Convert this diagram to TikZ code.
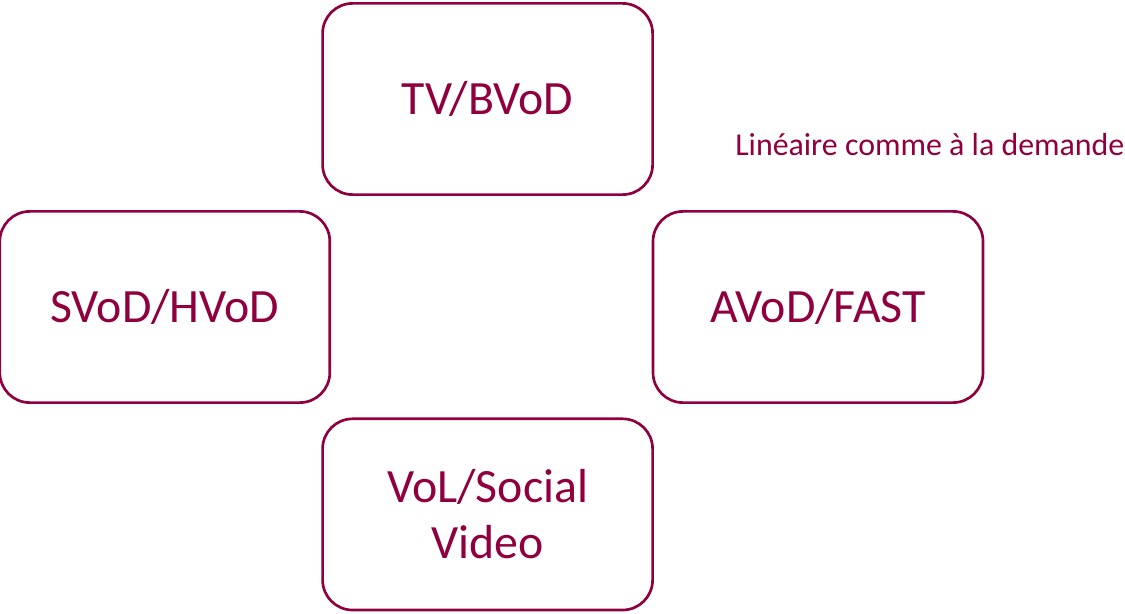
\documentclass[tikz,border=0pt]{standalone}
\usepackage{fontspec}
\setmainfont{Carlito}
\definecolor{wine}{RGB}{144,0,62}
\begin{document}
\begin{tikzpicture}[every node/.style={text=wine},
  offer/.style={draw=wine, line width=1.9pt, rounded corners=0.75cm, minimum width=8.25cm, minimum height=4.78cm, align=center, font=\fontsize{34}{40}\selectfont}]
\useasboundingbox (0, 0) rectangle (28.125, -15.325);
\node[offer] (tv) at (12.19, -2.475) {TV/BVoD};
\node[offer] (svod) at (4.12, -7.675) {SVoD/HVoD};
\node[offer] (avod) at (20.45, -7.675) {AVoD/FAST};
\node[offer] (vol) at (12.19, -12.86) {VoL/Social\\Video};
\node[anchor=west, inner sep=0, font=\fontsize{22.7}{27}\selectfont] (lin) at (18.375, -3.62) {Linéaire comme à la demande};
\end{tikzpicture}
\end{document}
